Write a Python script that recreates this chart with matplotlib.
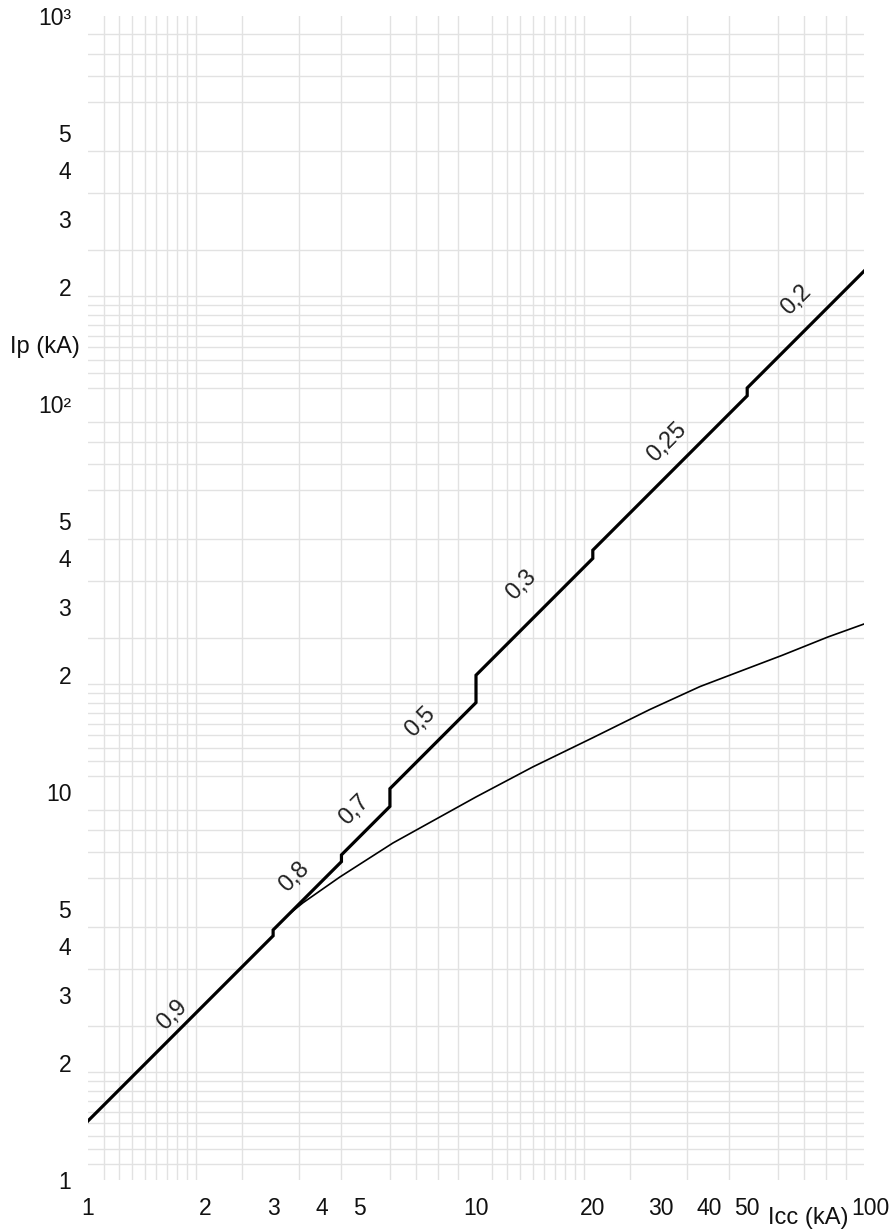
import numpy as np
import matplotlib.pyplot as plt
from matplotlib.transforms import ScaledTranslation

plt.rcParams['font.family'] = ['Liberation Sans', 'DejaVu Sans']

# peak factor steps (IEC-style table): Icc range limits and the factor n used in each range
icc_bounds = [1, 3, 4.5, 6, 10, 20, 50, 100]
peak_factor = [1.42, 1.47, 1.53, 1.7, 2.0, 2.1, 2.2]
cos_phi = ['0,9', '0,8', '0,7', '0,5', '0,3', '0,25', '0,2']
label_x = [1.65, 3.41, 4.87, 7.17, 13.1, 31.0, 66.9]
label_y = [2.66, 6.04, 8.98, 15.1, 34.1, 79.4, 185]

# limited peak current of the breaker
lim_icc = [3.3, 3.58, 4.46, 6.11, 10.0, 14.0, 20.0, 28.0, 37.8, 50.0, 61.5, 80.8, 100]
lim_ip = [4.85, 5.18, 6.04, 7.39, 9.71, 11.6, 13.8, 16.3, 18.7, 20.8, 22.5, 25.1, 27.1]

decade = [1.1, 1.2, 1.3, 1.4, 1.5, 1.6, 1.7, 1.8, 1.9, 2, 2.5, 3, 3.5, 4, 4.5, 5, 6, 7, 8, 9]
x_ticks = [1, 2, 3, 4, 5, 10, 20, 30, 40, 50, 100]
x_labels = ['1', '2', '3', '4', '5', '10', '20', '30', '40', '50', '100']
y_ticks = [1, 2, 3, 4, 5, 10, 20, 30, 40, 50, 100, 200, 300, 400, 500, 1000]
y_labels = ['1', '2', '3', '4', '5', '10', '2', '3', '4', '5', '10²', '2', '3', '4', '5', '10³']

fig = plt.figure(figsize=(8.95, 12.31), dpi=100)
ax = fig.add_axes([88/895, 1 - 1180/1231, 776/895, 1164/1231])
ax.set_xscale('log')
ax.set_yscale('log')
ax.set_xlim(1, 100)
ax.set_ylim(1, 1000)

xs, ys = [], []
for lo, hi, n in zip(icc_bounds[:-1], icc_bounds[1:], peak_factor):
    xs += [lo, hi]
    ys += [n*lo, n*hi]
ax.plot(xs, ys, color='black', lw=2.3, solid_joinstyle='miter', zorder=3)
ax.plot(lim_icc, lim_ip, color='black', lw=1.2, zorder=3)

for t, lx, ly in zip(cos_phi, label_x, label_y):
    ax.text(lx, ly, t, rotation=45, ha='center', va='center', fontsize=17, color='#222222')

# grid lines on the minor locator, labels on the major one
grid_x = [d*10**e for e in range(0, 2) for d in decade] + [1, 10, 100]
grid_y = [d*10**e for e in range(0, 3) for d in decade] + [1, 10, 100, 1000]
ax.xaxis.set_minor_locator(plt.FixedLocator(grid_x))
ax.yaxis.set_minor_locator(plt.FixedLocator(grid_y))
ax.xaxis.set_minor_formatter(plt.NullFormatter())
ax.yaxis.set_minor_formatter(plt.NullFormatter())
ax.set_xticks(x_ticks, x_labels)
ax.set_yticks(y_ticks, y_labels)
ax.grid(which='minor', color='#e2e2e2', lw=1.0)
ax.grid(which='major', visible=False)
ax.tick_params(which='both', length=0, labelsize=16.5, colors='#111111')
ax.tick_params(axis='x', pad=12)
ax.tick_params(axis='y', pad=12)
for s in ax.spines.values():
    s.set_visible(False)

# push the last x label a little right, clear of the axis title
last = ax.get_xticklabels()[-1]
last.set_transform(last.get_transform() + ScaledTranslation(0.06, 0, fig.dpi_scale_trans))

ax.text(-0.010, 140, 'Ip (kA)', transform=ax.get_yaxis_transform(), ha='right', va='center', fontsize=17, color='#111111')
ax.text(72, -0.0235, 'Icc (kA)', transform=ax.get_xaxis_transform(), ha='center', va='top', fontsize=17, color='#111111')

fig.savefig('out.png', dpi=100)
